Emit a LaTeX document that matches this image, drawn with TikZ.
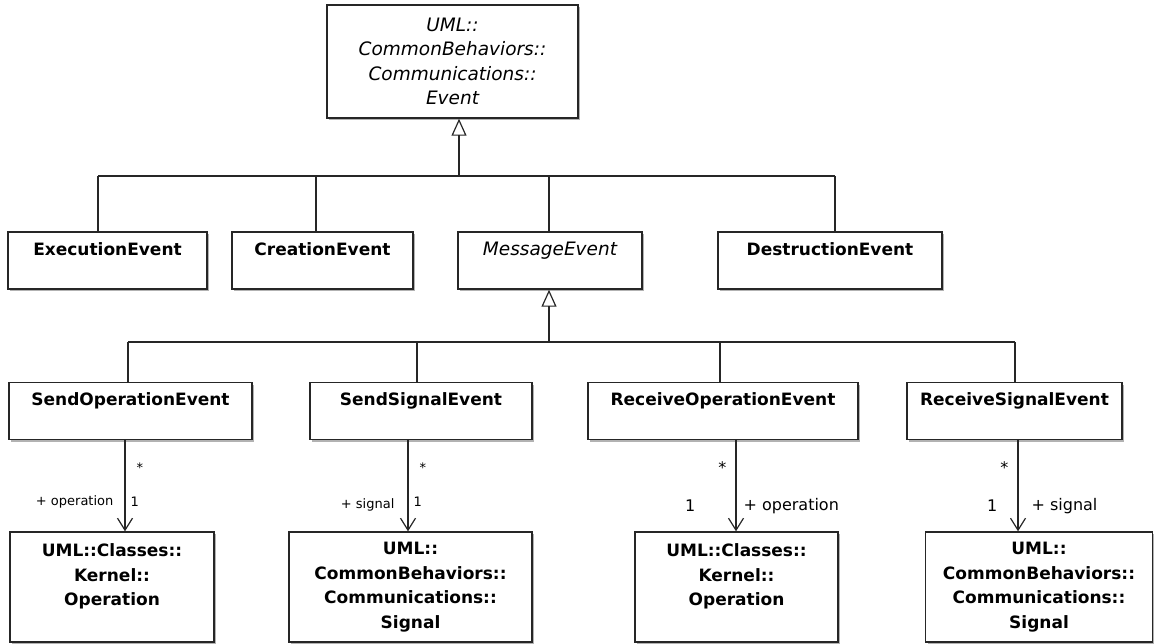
\documentclass[tikz,border=0pt]{standalone}
\usepackage{fontspec}
\setmainfont{DejaVu Sans}
\usetikzlibrary{arrows.meta,shadows}

\tikzset{
  cls/.style={rectangle, draw=black!85, line width=1.4pt, fill=white, inner xsep=2pt,
    drop shadow={shadow xshift=2pt, shadow yshift=-2pt, fill=black!30, opacity=1}},
  named/.style={cls, font=\fontsize{17}{20}\selectfont\bfseries, inner ysep=4pt,
    text height=19pt, text depth=30pt},
  abstract/.style={named, font=\fontsize{18.5}{20}\selectfont\itshape},
  ref/.style={cls, align=center, minimum height=110pt, font=\fontsize{17}{24.5}\selectfont\bfseries},
  tree/.style={line width=1.2pt, draw=black!85},
  gen/.style={tree, -{Triangle[open, length=17pt, width=15pt, line width=1.2pt]}},
  assoc/.style={tree, -{Straight Barb[length=12pt, width=15pt, line width=1.2pt]}},
  mult/.style={inner sep=1pt, font=\fontsize{13}{15}\selectfont},
  multb/.style={inner sep=1pt, font=\fontsize{16}{18}\selectfont}
}

\begin{document}
\begin{tikzpicture}[x=1pt, y=-1pt]
\useasboundingbox (0,0) rectangle (1154,643);

%LAYER 1
\node[cls, align=center, minimum width=251pt, minimum height=113pt,
  font=\fontsize{18.5}{24.5}\selectfont\itshape] (event) at (452.5,61.5)
  {UML::\\CommonBehaviors::\\Communications::\\Event};

%LAYER 2
\node[named, minimum width=199pt] (exec) at (107.5,260.5) {ExecutionEvent};
\node[named, minimum width=181pt] (creat) at (322.5,260.5) {CreationEvent};
\node[abstract, minimum width=184pt] (msg) at (550,260.5) {MessageEvent};
\node[named, minimum width=224pt] (destr) at (830,260.5) {DestructionEvent};

%LAYER 3
\node[named, minimum width=243pt] (sop) at (130.5,411) {SendOperationEvent};
\node[named, minimum width=222pt] (ssig) at (421,411) {SendSignalEvent};
\node[named, minimum width=270pt] (rop) at (723,411) {ReceiveOperationEvent};
\node[named, minimum width=215pt] (rsig) at (1014.5,411) {ReceiveSignalEvent};

%LAYER 4
\node[ref, minimum width=204pt] (op1) at (112,587) {UML::Classes::\\Kernel::\\Operation\\\mbox{}};
\node[ref, minimum width=243pt] (sig1) at (410.5,587) {UML::\\CommonBehaviors::\\Communications::\\Signal};
\node[ref, minimum width=203pt] (op2) at (736.5,587) {UML::Classes::\\Kernel::\\Operation\\\mbox{}};
\node[ref, minimum width=227pt] (sig2) at (1039,587) {UML::\\CommonBehaviors::\\Communications::\\Signal};

% generalization, layer 2 -> event
\coordinate (g1) at (459,176);
\coordinate (g1a) at (98,176);
\coordinate (g1b) at (316,176);
\coordinate (g1c) at (549,176);
\coordinate (g1d) at (835,176);
\draw[tree] (g1a) -- (g1d);
\draw[tree] (g1a) -- (exec.north -| g1a);
\draw[tree] (g1b) -- (creat.north -| g1b);
\draw[tree] (g1c) -- (msg.north -| g1c);
\draw[tree] (g1d) -- (destr.north -| g1d);
\draw[gen] (g1) -- (event.south -| g1);

% generalization, layer 3 -> message event
\coordinate (g2) at (549,342);
\coordinate (g2a) at (128,342);
\coordinate (g2b) at (417,342);
\coordinate (g2c) at (720,342);
\coordinate (g2d) at (1015,342);
\draw[tree] (g2a) -- (g2d);
\draw[tree] (g2a) -- (sop.north -| g2a);
\draw[tree] (g2b) -- (ssig.north -| g2b);
\draw[tree] (g2c) -- (rop.north -| g2c);
\draw[tree] (g2d) -- (rsig.north -| g2d);
\draw[gen] (g2) -- (msg.south -| g2);

% associations
\coordinate (a1) at (125,0);
\coordinate (a2) at (408,0);
\coordinate (a3) at (736,0);
\coordinate (a4) at (1018,0);

\draw[assoc] (sop.south -| a1) -- (op1.north -| a1)
  node[mult, pos=0.3, right=10pt] (m1s) {*}
  node[mult, pos=0.68, right=4pt] (m1o) {1}
  node[mult, pos=0.68, left=10pt] (r1) {+ operation};
\draw[assoc] (ssig.south -| a2) -- (sig1.north -| a2)
  node[mult, pos=0.3, right=10pt] (m2s) {*}
  node[mult, pos=0.68, right=4pt] (m2o) {1}
  node[mult, pos=0.71, left=12pt] (r2) {+ signal};
\draw[assoc] (rop.south -| a3) -- (op2.north -| a3)
  node[multb, pos=0.3, left=8pt] (m3s) {*}
  node[multb, pos=0.72, left=39pt] (m3o) {1}
  node[multb, pos=0.72, right=6pt] (r3) {+ operation};
\draw[assoc] (rsig.south -| a4) -- (sig2.north -| a4)
  node[multb, pos=0.3, left=8pt] (m4s) {*}
  node[multb, pos=0.72, left=19pt] (m4o) {1}
  node[multb, pos=0.72, right=12pt] (r4) {+ signal};

\end{tikzpicture}
\end{document}
